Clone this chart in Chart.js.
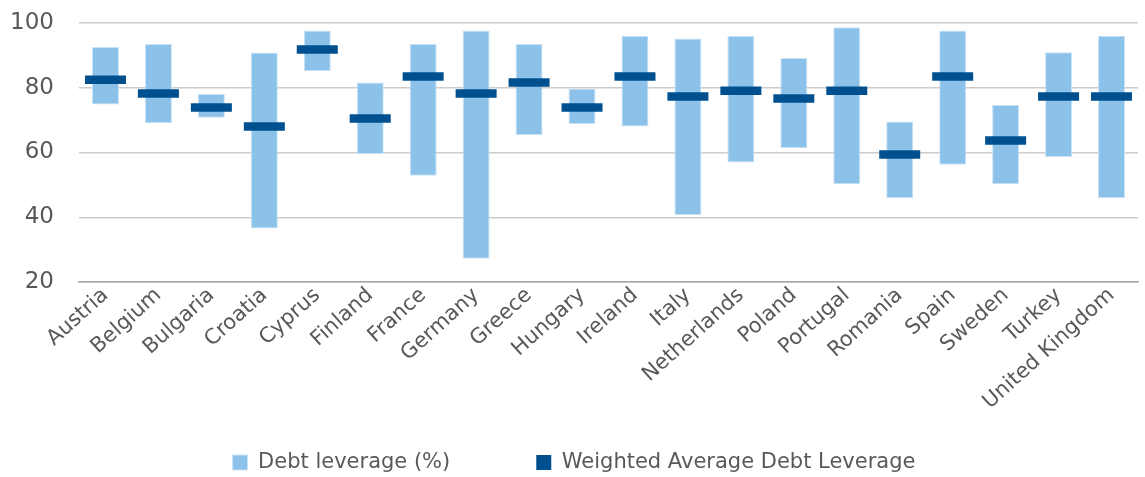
<!DOCTYPE html>
<html>
<head>
<meta charset="utf-8">
<script src="https://cdn.jsdelivr.net/npm/chart.js@4.4.1/dist/chart.umd.min.js"></script>
<style>
  html, body { margin: 0; padding: 0; background: #fff; }
  #wrap { width: 1145px; height: 477px; }
</style>
</head>
<body>
<div id="wrap"><canvas id="leverageChart"></canvas></div>
<script>
var countries = ["Austria", "Belgium", "Bulgaria", "Croatia", "Cyprus", "Finland", "France", "Germany",
    "Greece", "Hungary", "Ireland", "Italy", "Netherlands", "Poland", "Portugal", "Romania",
    "Spain", "Sweden", "Turkey", "United Kingdom"];
var leverageLow  = [74.8, 69.0, 70.7, 36.5, 85.1, 59.5, 52.8, 27.2, 65.4, 68.8, 68.0, 40.7, 56.9, 61.3, 50.2, 45.9, 56.2, 50.2, 58.6, 45.9];
var leverageHigh = [92.6, 93.5, 78.1, 90.9, 97.7, 81.6, 93.5, 97.7, 93.5, 79.8, 96.1, 95.2, 96.1, 89.2, 98.7, 69.6, 97.7, 74.7, 91.0, 96.1];
var weightedAvg  = [82.5, 78.2, 73.9, 68.0, 91.8, 70.5, 83.5, 78.2, 81.6, 73.9, 83.5, 77.3, 79.1, 76.7, 79.1, 59.4, 83.5, 63.7, 77.3, 77.3];
var yTicks = [20, 40, 60, 80, 100];

var ranges = [];
for (var i = 0; i < countries.length; i += 1) {
    ranges.push([leverageLow[i], leverageHigh[i]]);
}

var fontName = "'DejaVu Sans', sans-serif";
var textColor = "#595959";

// the legend needs a wide gap between its two items but not the tall box
// that a big labels.padding gives, so shrink it after fit and shift the drawing
var legendGap = {
    id: "legendGap",
    afterInit: function(chart) {
        var lg = chart.legend;
        var fit = lg.fit;
        var draw = lg.draw;
        lg.fit = function() {
            fit.call(this);
            this.height -= 80;
        };
        lg.draw = function() {
            var t = this.top;
            this.top = t - 74;
            draw.call(this);
            this.top = t;
        };
    }
};

var canvas = document.getElementById('leverageChart');
var myChart = new Chart(canvas, {
    type: "bar",
    data: {
        labels: countries,
        datasets: [
            {
                label: "Debt leverage (%)",
                data: ranges,
                backgroundColor: "#8cc2ea",
                borderColor: "#c9e2f6",
                borderWidth: 1,
                borderSkipped: false,
                barPercentage: 0.51,
                categoryPercentage: 1.0,
                order: 2
            },
            {
                type: "line",
                label: "Weighted Average Debt Leverage",
                data: weightedAvg,
                showLine: false,
                backgroundColor: "#00508f",
                borderColor: "#00508f",
                borderWidth: 0,
                pointStyle: "line",
                pointRadius: 20.5,
                pointHoverRadius: 20.5,
                pointBorderWidth: 8.5,
                pointHoverBorderWidth: 8.5,
                pointBorderColor: "#00508f",
                order: 1
            }
        ]
    },
    options: {
        responsive: true,
        maintainAspectRatio: false,
        animation: false,
        layout: { autoPadding: false, padding: { left: 10, right: 7, top: 0, bottom: 0 } },
        plugins: {
            tooltip: { enabled: false },
            legend: {
                position: "bottom",
                labels: {
                    color: textColor,
                    font: { family: fontName, size: 21 },
                    boxWidth: 15,
                    boxHeight: 15,
                    padding: 86,
                    sort: function(a, b) { return a.datasetIndex - b.datasetIndex; }
                }
            }
        },
        scales: {
            x: {
                grid: { display: false, drawTicks: false },
                border: { color: "#a6a6a6", width: 1.5 },
                ticks: {
                    color: textColor,
                    font: { family: fontName, size: 21 },
                    minRotation: 42,
                    maxRotation: 42,
                    padding: 1
                },
                afterFit: function(scale) {
                    scale.height = 158;
                    scale.paddingLeft = 0;
                    scale.paddingRight = 0;
                }
            },
            y: {
                min: 20,
                max: 100,
                afterBuildTicks: function(axis) {
                    axis.ticks = yTicks.map(function(v) { return { value: v }; });
                },
                grid: { color: "#cccccc", lineWidth: 1.5, drawTicks: false },
                border: { display: false },
                ticks: {
                    color: textColor,
                    font: { family: fontName, size: 23 },
                    padding: 25
                },
                afterFit: function(scale) {
                    scale.width = 69;
                    scale.paddingTop = 23;
                    scale.paddingBottom = 0;
                }
            }
        }
    },
    plugins: [legendGap]
});
</script>
</body>
</html>
